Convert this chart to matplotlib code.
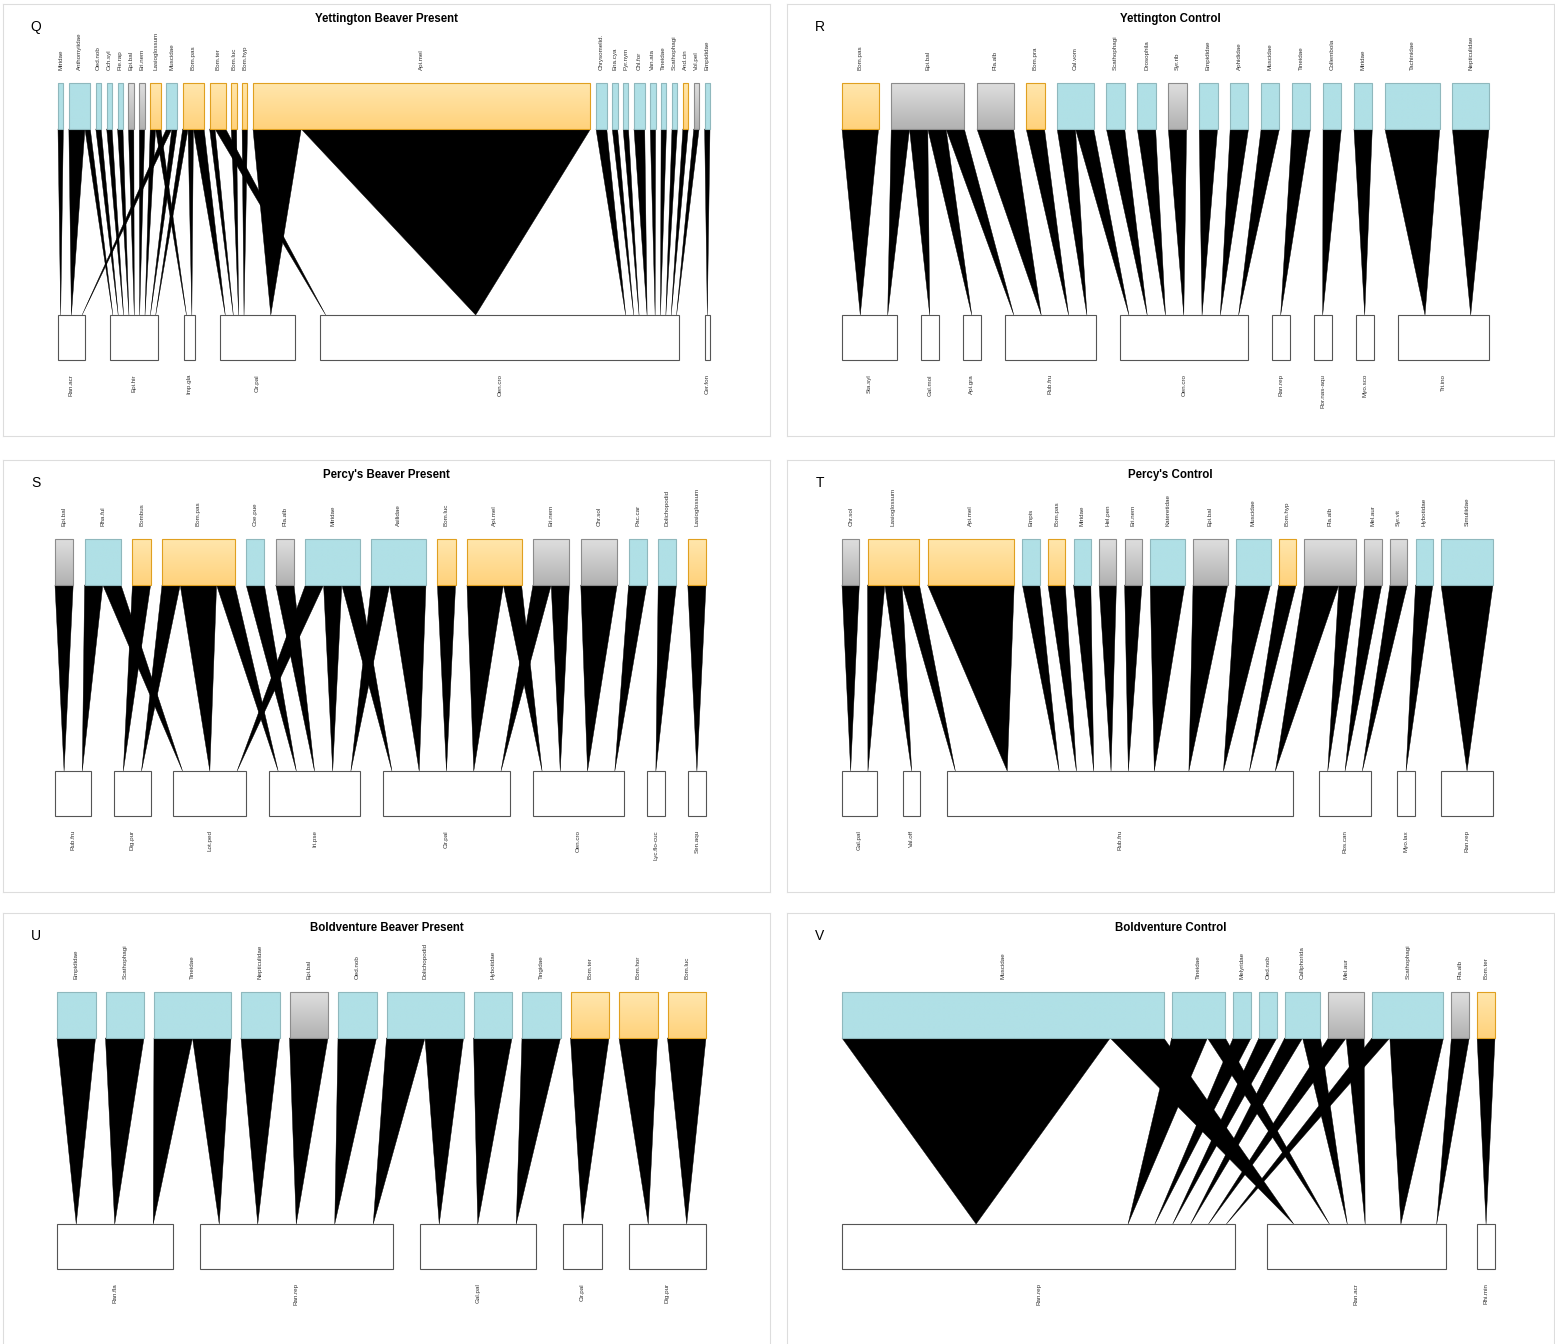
import matplotlib
matplotlib.use("Agg")
import matplotlib.pyplot as plt
import numpy as np
from matplotlib.patches import Rectangle, Polygon

plt.rcParams["font.family"] = ["Liberation Sans", "DejaVu Sans"]

# box fills: (top of box, bottom of box)
FILLS = {"b": ("#b0e0e6", "#b0e0e6"),
         "y": ("#ffe6ac", "#ffd27c"),
         "g": ("#dedede", "#b2b2b2")}
EDGES = {"b": "#8fb8bd", "y": "#e0a020", "g": "#8c8c8c"}

# ---------------- Q  Yettington Beaver Present
Q_TOP = ["Miridae", "Anthomyiidae", "Oed.nob", "Och.syl", "Pie.rap", "Epi.bal",
         "Eri.nem", "Lasioglossum", "Muscidae", "Bom.pas", "Bom.ter", "Bom.luc",
         "Bom.hyp", "Api.mel", "Chrysomelid.", "Ena.cya", "Pyr.nym", "Chl.for",
         "Van.ata", "Tineidae", "Scathophagi", "And.cin", "Vol.pel", "Empididae"]
Q_KIND = "bbbbbggybyyyyybbbbbbbygb"
Q_BOTTOM = ["Ran.acr", "Epi.hir", "Imp.gla", "Cir.pal", "Oen.cro", "Cer.fon"]
Q_WEB = [("Miridae", "Ran.acr", 1), ("Anthomyiidae", "Ran.acr", 3),
         ("Anthomyiidae", "Epi.hir", 1), ("Oed.nob", "Epi.hir", 1),
         ("Och.syl", "Epi.hir", 1), ("Pie.rap", "Epi.hir", 1),
         ("Epi.bal", "Epi.hir", 1), ("Eri.nem", "Epi.hir", 1),
         ("Lasioglossum", "Epi.hir", 1), ("Lasioglossum", "Imp.gla", 1),
         ("Muscidae", "Ran.acr", 1), ("Muscidae", "Epi.hir", 1),
         ("Bom.pas", "Epi.hir", 1), ("Bom.pas", "Imp.gla", 1),
         ("Bom.pas", "Cir.pal", 2), ("Bom.ter", "Cir.pal", 1),
         ("Bom.ter", "Oen.cro", 2), ("Bom.luc", "Cir.pal", 1),
         ("Bom.hyp", "Cir.pal", 1), ("Api.mel", "Cir.pal", 9),
         ("Api.mel", "Oen.cro", 54), ("Chrysomelid.", "Oen.cro", 2),
         ("Ena.cya", "Oen.cro", 1), ("Pyr.nym", "Oen.cro", 1),
         ("Chl.for", "Oen.cro", 2), ("Van.ata", "Oen.cro", 1),
         ("Tineidae", "Oen.cro", 1), ("Scathophagi", "Oen.cro", 1),
         ("And.cin", "Oen.cro", 1), ("Vol.pel", "Oen.cro", 1),
         ("Empididae", "Cer.fon", 1)]

# ---------------- R  Yettington Control
R_TOP = ["Bom.pas", "Epi.bal", "Pla.alb", "Bom.pra", "Cal.vom", "Scathophagi",
         "Drosophila", "Syr.rib", "Empididae", "Aphididae", "Muscidae", "Tineidae",
         "Collembola", "Miridae", "Tachinidae", "Nepticulidae"]
R_KIND = "yggybbbgbbbbbbbb"
R_BOTTOM = ["Sta.syl", "Gal.mol", "Api.gra", "Rub.fru", "Oen.cro", "Ran.rep",
            "Ror.nas-aqu", "Myo.sco", "Tri.ino"]
R_WEB = [("Bom.pas", "Sta.syl", 2), ("Epi.bal", "Sta.syl", 1),
         ("Epi.bal", "Gal.mol", 1), ("Epi.bal", "Api.gra", 1),
         ("Epi.bal", "Rub.fru", 1), ("Pla.alb", "Rub.fru", 2),
         ("Bom.pra", "Rub.fru", 1), ("Cal.vom", "Rub.fru", 1),
         ("Cal.vom", "Oen.cro", 1), ("Scathophagi", "Oen.cro", 1),
         ("Drosophila", "Oen.cro", 1), ("Syr.rib", "Oen.cro", 1),
         ("Empididae", "Oen.cro", 1), ("Aphididae", "Oen.cro", 1),
         ("Muscidae", "Oen.cro", 1), ("Tineidae", "Ran.rep", 1),
         ("Collembola", "Ror.nas-aqu", 1), ("Miridae", "Myo.sco", 1),
         ("Tachinidae", "Tri.ino", 3), ("Nepticulidae", "Tri.ino", 2)]

# ---------------- S  Percy's Beaver Present
S_TOP = ["Epi.bal", "Rha.ful", "Bombus", "Bom.pas", "Coe.pue", "Pla.alb", "Miridae",
         "Asilidae", "Bom.luc", "Api.mel", "Eri.nem", "Chr.sol", "Pac.car",
         "Dolichopodid", "Lasioglossum"]
S_KIND = "gbyybgbbyyggbby"
S_BOTTOM = ["Rub.fru", "Dig.pur", "Lot.ped", "Iri.pse", "Cir.pal", "Oen.cro",
            "Lyc.flo-cuc", "Sen.aqu"]
S_WEB = [("Epi.bal", "Rub.fru", 1), ("Rha.ful", "Rub.fru", 1),
         ("Rha.ful", "Lot.ped", 1), ("Bombus", "Dig.pur", 1),
         ("Bom.pas", "Dig.pur", 1), ("Bom.pas", "Lot.ped", 2),
         ("Bom.pas", "Iri.pse", 1), ("Coe.pue", "Iri.pse", 1),
         ("Pla.alb", "Iri.pse", 1), ("Miridae", "Lot.ped", 1),
         ("Miridae", "Iri.pse", 1), ("Miridae", "Cir.pal", 1),
         ("Asilidae", "Iri.pse", 1), ("Asilidae", "Cir.pal", 2),
         ("Bom.luc", "Cir.pal", 1), ("Api.mel", "Cir.pal", 2),
         ("Api.mel", "Oen.cro", 1), ("Eri.nem", "Cir.pal", 1),
         ("Eri.nem", "Oen.cro", 1), ("Chr.sol", "Oen.cro", 2),
         ("Pac.car", "Oen.cro", 1), ("Dolichopodid", "Lyc.flo-cuc", 1),
         ("Lasioglossum", "Sen.aqu", 1)]

# ---------------- T  Percy's Control
T_TOP = ["Chr.sol", "Lasioglossum", "Api.mel", "Empis", "Bom.pas", "Miridae",
         "Hel.pen", "Eri.nem", "Kateretidae", "Epi.bal", "Muscidae", "Bom.hyp",
         "Pla.alb", "Mel.aur", "Syr.vit", "Hybotidae", "Simuliidae"]
T_KIND = "gyybybggbgbygggbb"
T_BOTTOM = ["Gal.pal", "Val.off", "Rub.fru", "Ros.can", "Myo.lax", "Ran.rep"]
T_WEB = [("Chr.sol", "Gal.pal", 1), ("Lasioglossum", "Gal.pal", 1),
         ("Lasioglossum", "Val.off", 1), ("Lasioglossum", "Rub.fru", 1),
         ("Api.mel", "Rub.fru", 5), ("Empis", "Rub.fru", 1),
         ("Bom.pas", "Rub.fru", 1), ("Miridae", "Rub.fru", 1),
         ("Hel.pen", "Rub.fru", 1), ("Eri.nem", "Rub.fru", 1),
         ("Kateretidae", "Rub.fru", 2), ("Epi.bal", "Rub.fru", 2),
         ("Muscidae", "Rub.fru", 2), ("Bom.hyp", "Rub.fru", 1),
         ("Pla.alb", "Rub.fru", 2), ("Pla.alb", "Ros.can", 1),
         ("Mel.aur", "Ros.can", 1), ("Syr.vit", "Ros.can", 1),
         ("Hybotidae", "Myo.lax", 1), ("Simuliidae", "Ran.rep", 3)]

# ---------------- U  Boldventure Beaver Present
U_TOP = ["Empididae", "Scathophagi", "Tineidae", "Nepticulidae", "Epi.bal",
         "Oed.nob", "Dolichopodid", "Hybotidae", "Tingidae", "Bom.ter",
         "Bom.hor", "Bom.luc"]
U_KIND = "bbbbgbbbbyyy"
U_BOTTOM = ["Ran.fla", "Ran.rep", "Gal.pal", "Cir.pal", "Dig.pur"]
U_WEB = [("Empididae", "Ran.fla", 1), ("Scathophagi", "Ran.fla", 1),
         ("Tineidae", "Ran.fla", 1), ("Tineidae", "Ran.rep", 1),
         ("Nepticulidae", "Ran.rep", 1), ("Epi.bal", "Ran.rep", 1),
         ("Oed.nob", "Ran.rep", 1), ("Dolichopodid", "Ran.rep", 1),
         ("Dolichopodid", "Gal.pal", 1), ("Hybotidae", "Gal.pal", 1),
         ("Tingidae", "Gal.pal", 1), ("Bom.ter", "Cir.pal", 1),
         ("Bom.hor", "Dig.pur", 1), ("Bom.luc", "Dig.pur", 1)]

# ---------------- V  Boldventure Control
V_TOP = ["Muscidae", "Tineidae", "Melyridae", "Oed.nob", "Calliphorida",
         "Mel.aur", "Scathophagi", "Pla.alb", "Bom.ter"]
V_KIND = "bbbbbgbgy"
V_BOTTOM = ["Ran.rep", "Ran.acr", "Rhi.min"]
V_WEB = [("Muscidae", "Ran.rep", 15), ("Muscidae", "Ran.acr", 3),
         ("Tineidae", "Ran.rep", 2), ("Tineidae", "Ran.acr", 1),
         ("Melyridae", "Ran.rep", 1), ("Oed.nob", "Ran.rep", 1),
         ("Calliphorida", "Ran.rep", 1), ("Calliphorida", "Ran.acr", 1),
         ("Mel.aur", "Ran.rep", 1), ("Mel.aur", "Ran.acr", 1),
         ("Scathophagi", "Ran.rep", 1), ("Scathophagi", "Ran.acr", 3),
         ("Pla.alb", "Ran.acr", 1), ("Bom.ter", "Rhi.min", 1)]

PANELS = [
    ("Q", "Yettington Beaver Present", Q_TOP, Q_KIND, Q_BOTTOM, Q_WEB),
    ("R", "Yettington Control", R_TOP, R_KIND, R_BOTTOM, R_WEB),
    ("S", "Percy's Beaver Present", S_TOP, S_KIND, S_BOTTOM, S_WEB),
    ("T", "Percy's Control", T_TOP, T_KIND, T_BOTTOM, T_WEB),
    ("U", "Boldventure Beaver Present", U_TOP, U_KIND, U_BOTTOM, U_WEB),
    ("V", "Boldventure Control", V_TOP, V_KIND, V_BOTTOM, V_WEB),
]

# panel frames in pixels: (left, top), width/height shared
FW, FH = 1555, 1344
FRAMES = [(3, 4), (787, 4), (3, 460), (787, 460), (3, 913), (787, 913)]
PW, PH = 767, 432
# web x-range inside each frame and total gap space shared by both levels
XRANGE = [(55, 707), (55, 702), (52, 703), (55, 706), (54, 703), (55, 708)]
GAPS = [127, 190, 160, 132, 110, 63]
TOP_Y = (79, 125)
BOT_Y = (311, 356)


def lefts(totals, x0, x1, gap_total):
    unit = (x1 - x0 - gap_total) / sum(totals)
    gap = gap_total / (len(totals) - 1)
    out, x = [], x0
    for t in totals:
        out.append(x)
        x += t * unit + gap
    return out, unit


def draw_web(ax, top, kind, bottom, web, xr, gap_total):
    ttot = [sum(w for t, b, w in web if t == n) for n in top]
    btot = [sum(w for t, b, w in web if b == n) for n in bottom]
    tl, unit = lefts(ttot, *xr, gap_total)
    bl, _ = lefts(btot, *xr, gap_total)

    # link segments: inside a top box ordered by lower species, and vice versa
    cur = dict(zip(top, tl))
    seg = {}
    for t, b, w in sorted(web, key=lambda r: (top.index(r[0]), bottom.index(r[1]))):
        seg[(t, b)] = cur[t]
        cur[t] += w * unit
    cur = dict(zip(bottom, bl))
    tip = {}
    for t, b, w in sorted(web, key=lambda r: (bottom.index(r[1]), top.index(r[0]))):
        tip[(t, b)] = cur[b] + w * unit / 2
        cur[b] += w * unit
    for t, b, w in web:
        xa = seg[(t, b)]
        ax.add_patch(Polygon([(xa, TOP_Y[1]), (xa + w * unit, TOP_Y[1]),
                              (tip[(t, b)], BOT_Y[0])],
                             closed=True, fc="black", ec="black", lw=0.3, zorder=1))

    for name, k, x, n in zip(top, kind, tl, ttot):
        wd = n * unit
        c0, c1 = FILLS[k]
        grad = np.linspace(0, 1, 64)[:, None, None]
        rgb = (1 - grad) * np.array(matplotlib.colors.to_rgb(c0)) + grad * np.array(matplotlib.colors.to_rgb(c1))
        ax.imshow(rgb, extent=(x, x + wd, TOP_Y[1], TOP_Y[0]), origin="upper",
                  aspect="auto", interpolation="bilinear", zorder=2)
        ax.add_patch(Rectangle((x, TOP_Y[0]), wd, TOP_Y[1] - TOP_Y[0], fill=False,
                               ec=EDGES[k], lw=0.8, zorder=3))
        ax.text(x + wd / 2, TOP_Y[0] - 13, name, rotation=90, ha="center", va="bottom",
                fontsize=4.5, color="#333333")
    for name, x, n in zip(bottom, bl, btot):
        wd = n * unit
        ax.add_patch(Rectangle((x, BOT_Y[0]), wd, BOT_Y[1] - BOT_Y[0], fc="white",
                               ec="#555555", lw=0.8, zorder=3))
        ax.text(x + wd / 2, BOT_Y[1] + 14, name, rotation=90, ha="center", va="top",
                fontsize=4.5, color="#333333")


fig = plt.figure(figsize=(FW / 100, FH / 100), dpi=100)
for (letter, title, top, kind, bottom, web), (fx, fy), xr, g in zip(PANELS, FRAMES, XRANGE, GAPS):
    ax = fig.add_axes([fx / FW, 1 - (fy + PH) / FH, PW / FW, PH / FH])
    draw_web(ax, top, kind, bottom, web, xr, g)
    ax.set_xlim(0, PW)
    ax.set_ylim(PH, 0)
    ax.set_xticks([])
    ax.set_yticks([])
    for sp in ax.spines.values():
        sp.set_color("#dddddd")
        sp.set_linewidth(0.8)
    ax.text(PW / 2, 15, title, ha="center", va="center", fontsize=8.3, fontweight="bold")
    ax.text(33, 23, letter, ha="center", va="center", fontsize=10)

fig.savefig("out.png", dpi=100)
